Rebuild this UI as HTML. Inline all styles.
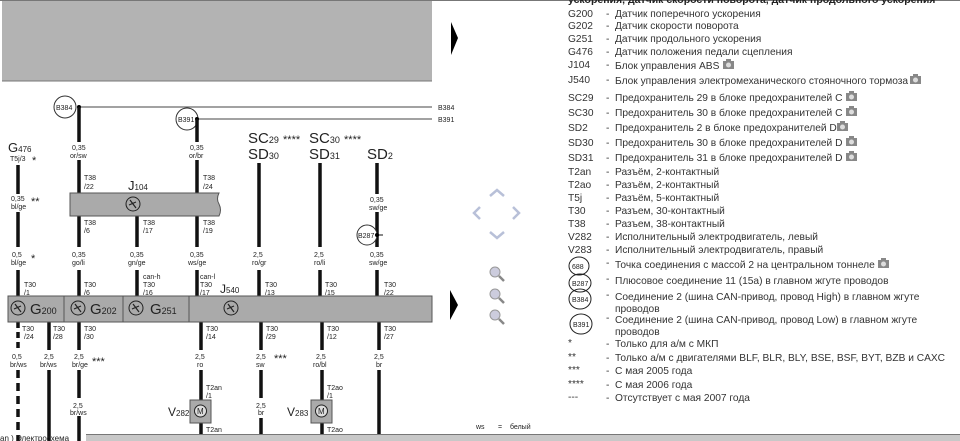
<!DOCTYPE html>
<html><head><meta charset="utf-8"><style>
html,body{margin:0;padding:0;background:#fff;width:960px;height:441px;overflow:hidden}
svg{display:block}
text{font-family:"Liberation Sans",sans-serif;fill:#222}
.s{font-size:7px}
.L{font-size:15px}
.g{font-size:10.2px;fill:#333}
</style></head><body>
<svg width="960" height="441" viewBox="0 0 960 441" xmlns="http://www.w3.org/2000/svg">
<defs>
<g id="sym"><circle r="7" fill="none" stroke="#222" stroke-width="1"/><path d="M-3,-4 L3,4 M-4,1 L3,-2" stroke="#222" stroke-width="1.2"/></g>
<g id="cam"><rect x="-5" y="-4" width="11" height="8" fill="#888"/><rect x="-2" y="-6" width="5" height="2" fill="#888"/><circle cx="0.5" cy="0" r="2.5" fill="#ddd"/></g>
</defs>
<line x1="0" y1="0.5" x2="960" y2="0.5" stroke="#777"/>
<rect x="2" y="1" width="430" height="80" fill="#b3b3b3"/>
<line x1="2" y1="81" x2="432" y2="81" stroke="#777"/>
<polygon points="451,22 458,38 451,55" fill="#000"/>
<polygon points="450,290 458,305 450,320" fill="#000"/>

<circle cx="65" cy="107" r="11" fill="#fff" stroke="#333"/><text x="56" y="110" class="s">B384</text>
<line x1="79" y1="107" x2="432" y2="107" stroke="#444"/><circle cx="79" cy="107" r="2" fill="#000"/>
<text x="438" y="110" class="s">B384</text>
<circle cx="187" cy="119" r="11" fill="#fff" stroke="#333"/><text x="178" y="122" class="s">B391</text>
<line x1="197" y1="119" x2="432" y2="119" stroke="#444"/><circle cx="197" cy="119" r="2" fill="#000"/>
<text x="438" y="122" class="s">B391</text>

<g stroke="#111" stroke-width="3.5">
<line x1="79" y1="107" x2="79" y2="142"/><line x1="79" y1="160" x2="79" y2="193"/>
<line x1="197" y1="119" x2="197" y2="142"/><line x1="197" y1="160" x2="197" y2="193"/>
<line x1="79" y1="216" x2="79" y2="247"/><line x1="79" y1="270" x2="79" y2="296"/>
<line x1="137" y1="216" x2="137" y2="247"/><line x1="137" y1="270" x2="137" y2="296"/>
<line x1="197" y1="216" x2="197" y2="247"/><line x1="197" y1="270" x2="197" y2="296"/>
<line x1="18" y1="165" x2="18" y2="194"/><line x1="18" y1="212" x2="18" y2="247"/><line x1="18" y1="270" x2="18" y2="296"/>
<line x1="259" y1="163" x2="259" y2="247"/><line x1="259" y1="270" x2="259" y2="296"/>
<line x1="320" y1="163" x2="320" y2="247"/><line x1="320" y1="270" x2="320" y2="296"/>
<line x1="377" y1="163" x2="377" y2="194"/><line x1="377" y1="212" x2="377" y2="247"/><line x1="377" y1="270" x2="377" y2="296"/>
<line x1="18" y1="322" x2="18" y2="350" stroke-dasharray="6,4"/><line x1="18" y1="370" x2="18" y2="441" stroke-dasharray="8,5"/>
<line x1="49" y1="322" x2="49" y2="350"/><line x1="49" y1="370" x2="49" y2="441"/>
<line x1="79" y1="322" x2="79" y2="350"/><line x1="79" y1="370" x2="79" y2="398"/><line x1="79" y1="416" x2="79" y2="441"/>
<line x1="201" y1="322" x2="201" y2="350"/><line x1="201" y1="370" x2="201" y2="400"/><line x1="201" y1="423" x2="201" y2="441"/>
<line x1="261" y1="322" x2="261" y2="350"/><line x1="261" y1="370" x2="261" y2="398"/><line x1="261" y1="418" x2="261" y2="441"/>
<line x1="322" y1="322" x2="322" y2="350"/><line x1="322" y1="370" x2="322" y2="400"/><line x1="322" y1="423" x2="322" y2="441"/>
<line x1="379" y1="322" x2="379" y2="350"/><line x1="379" y1="370" x2="379" y2="441"/>
</g>

<path d="M70,193 H219 Q216,199 219,204 Q222,210 219,216 H70 Z" fill="#aaa" stroke="#555"/>
<use href="#sym" x="133" y="204"/>
<text x="128" y="190" class="L" style="font-size:13px">J<tspan style="font-size:8px">104</tspan></text>

<rect x="8" y="296" width="424" height="26" fill="#aaa" stroke="#555"/>
<line x1="64" y1="296" x2="64" y2="322" stroke="#555"/><line x1="123" y1="296" x2="123" y2="322" stroke="#555"/><line x1="189" y1="296" x2="189" y2="322" stroke="#555"/>
<use href="#sym" x="18" y="308"/><text x="30" y="314" class="L">G<tspan style="font-size:9px">200</tspan></text>
<use href="#sym" x="78" y="308"/><text x="90" y="314" class="L">G<tspan style="font-size:9px">202</tspan></text>
<use href="#sym" x="136" y="308"/><text x="150" y="314" class="L">G<tspan style="font-size:9px">251</tspan></text>
<use href="#sym" x="231" y="308"/>

<text x="8" y="152" class="L" style="font-size:13px">G<tspan style="font-size:8px">476</tspan></text>
<text x="10" y="161" class="s">T5j/3</text><text x="32" y="164" style="font-size:11px">*</text>
<text x="11" y="201" class="s">0,35</text><text x="11" y="209" class="s">bl/ge</text><text x="31" y="205" style="font-size:11px">**</text>
<text x="12" y="257" class="s">0,5</text><text x="11" y="265" class="s">bl/ge</text><text x="31" y="262" style="font-size:11px">*</text>
<text x="72" y="150" class="s">0,35</text><text x="70" y="158" class="s">or/sw</text>
<text x="190" y="150" class="s">0,35</text><text x="189" y="158" class="s">or/br</text>
<text x="84" y="180" class="s">T38</text><text x="84" y="189" class="s">/22</text>
<text x="203" y="180" class="s">T38</text><text x="203" y="189" class="s">/24</text>
<text x="84" y="225" class="s">T38</text><text x="84" y="233" class="s">/6</text>
<text x="143" y="225" class="s">T38</text><text x="143" y="233" class="s">/17</text>
<text x="203" y="225" class="s">T38</text><text x="203" y="233" class="s">/19</text>
<text x="72" y="257" class="s">0,35</text><text x="72" y="265" class="s">go/li</text>
<text x="130" y="257" class="s">0,35</text><text x="128" y="265" class="s">gn/ge</text>
<text x="190" y="257" class="s">0,35</text><text x="188" y="265" class="s">ws/ge</text>
<text x="253" y="257" class="s">2,5</text><text x="252" y="265" class="s">ro/gr</text>
<text x="314" y="257" class="s">2,5</text><text x="314" y="265" class="s">ro/li</text>
<text x="370" y="202" class="s">0,35</text><text x="369" y="210" class="s">sw/ge</text>
<circle cx="367" cy="235" r="10" fill="#fff" stroke="#333"/><text x="358" y="238" class="s">B287</text>
<line x1="377" y1="235" x2="383" y2="235" stroke="#111"/><circle cx="377" cy="235" r="2" fill="#000"/>
<text x="370" y="257" class="s">0,35</text><text x="369" y="265" class="s">sw/ge</text>
<text x="248" y="143" class="L">SC<tspan style="font-size:9px">29</tspan> <tspan style="font-size:11px">****</tspan></text>
<text x="248" y="159" class="L">SD<tspan style="font-size:9px">30</tspan></text>
<text x="309" y="143" class="L">SC<tspan style="font-size:9px">30</tspan> <tspan style="font-size:11px">****</tspan></text>
<text x="309" y="159" class="L">SD<tspan style="font-size:9px">31</tspan></text>
<text x="367" y="159" class="L">SD<tspan style="font-size:9px">2</tspan></text>

<text x="24" y="287" class="s">T30</text><text x="24" y="295" class="s">/1</text>
<text x="84" y="287" class="s">T30</text><text x="84" y="295" class="s">/6</text>
<text x="143" y="279" class="s">can-h</text><text x="143" y="287" class="s">T30</text><text x="143" y="295" class="s">/16</text>
<text x="200" y="279" class="s">can-l</text><text x="200" y="287" class="s">T30</text><text x="200" y="295" class="s">/17</text>
<text x="220" y="293" style="font-size:12px">J<tspan style="font-size:8px">540</tspan></text>
<text x="265" y="287" class="s">T30</text><text x="265" y="295" class="s">/13</text>
<text x="325" y="287" class="s">T30</text><text x="325" y="295" class="s">/15</text>
<text x="384" y="287" class="s">T30</text><text x="384" y="295" class="s">/22</text>

<text x="22" y="331" class="s">T30</text><text x="24" y="339" class="s">/24</text>
<text x="53" y="331" class="s">T30</text><text x="53" y="339" class="s">/28</text>
<text x="84" y="331" class="s">T30</text><text x="84" y="339" class="s">/30</text>
<text x="206" y="331" class="s">T30</text><text x="206" y="339" class="s">/14</text>
<text x="266" y="331" class="s">T30</text><text x="266" y="339" class="s">/29</text>
<text x="327" y="331" class="s">T30</text><text x="327" y="339" class="s">/12</text>
<text x="384" y="331" class="s">T30</text><text x="384" y="339" class="s">/27</text>
<text x="12" y="359" class="s">0,5</text><text x="10" y="367" class="s">br/ws</text>
<text x="44" y="359" class="s">2,5</text><text x="40" y="367" class="s">br/ws</text>
<text x="74" y="359" class="s">2,5</text><text x="72" y="367" class="s">br/ge</text><text x="92" y="365" style="font-size:11px">***</text>
<text x="195" y="359" class="s">2,5</text><text x="197" y="367" class="s">ro</text>
<text x="256" y="359" class="s">2,5</text><text x="256" y="367" class="s">sw</text><text x="274" y="362" style="font-size:11px">***</text>
<text x="316" y="359" class="s">2,5</text><text x="313" y="367" class="s">ro/bl</text>
<text x="374" y="359" class="s">2,5</text><text x="376" y="367" class="s">br</text>
<text x="73" y="408" class="s">2,5</text><text x="70" y="415" class="s">br/ws</text>
<text x="256" y="408" class="s">2,5</text><text x="258" y="415" class="s">br</text>
<text x="206" y="390" class="s">T2an</text><text x="206" y="398" class="s">/1</text>
<text x="327" y="390" class="s">T2ao</text><text x="327" y="398" class="s">/1</text>
<text x="206" y="432" class="s">T2an</text><text x="327" y="432" class="s">T2ao</text>
<rect x="190" y="400" width="21" height="23" fill="#aaa" stroke="#555"/><circle cx="200.5" cy="411" r="6" fill="#ddd" stroke="#222"/><text x="197" y="414" style="font-size:8px">M</text>
<text x="168" y="416" style="font-size:12px">V<tspan style="font-size:8px">282</tspan></text>
<rect x="311" y="400" width="21" height="23" fill="#aaa" stroke="#555"/><circle cx="321.5" cy="411" r="6" fill="#ddd" stroke="#222"/><text x="318" y="414" style="font-size:8px">M</text>
<text x="287" y="416" style="font-size:12px">V<tspan style="font-size:8px">283</tspan></text>
<text x="476" y="429" class="s">ws</text><text x="498" y="429" class="s">=</text><text x="510" y="429" class="s">белый</text>

<g stroke="#b8c0d8" stroke-width="2.5" fill="none">
<path d="M490,196 L497,190 L504,196"/><path d="M490,232 L497,238 L504,232"/>
<path d="M480,207 L474,213 L480,219"/><path d="M513,207 L519,213 L513,219"/>
</g>
<g fill="#ccd" stroke="#999">
<circle cx="495" cy="272" r="5"/><circle cx="495" cy="294" r="5"/><circle cx="495" cy="315" r="5"/>
</g>
<g stroke="#888" stroke-width="2.5"><line x1="499" y1="276" x2="504" y2="281"/><line x1="499" y1="298" x2="504" y2="303"/><line x1="499" y1="319" x2="504" y2="324"/></g>

<rect x="86" y="434" width="874" height="7" fill="#c8c8c8"/><line x1="86" y1="434.5" x2="960" y2="434.5" stroke="#777"/>
<text x="0" y="441" style="font-size:8px">an ) Электросхема</text>

<text x="568" y="3" style="font-size:10.5px;font-weight:bold">ускорения, датчик скорости поворота, датчик продольного ускорения</text>
<g class="g">
<text x="568" y="17" class="g">G200</text><text x="606" y="17" class="g">-</text><text x="615" y="17" class="g">Датчик поперечного ускорения</text>
<text x="568" y="29" class="g">G202</text><text x="606" y="29" class="g">-</text><text x="615" y="29" class="g">Датчик скорости поворота</text>
<text x="568" y="42" class="g">G251</text><text x="606" y="42" class="g">-</text><text x="615" y="42" class="g">Датчик продольного ускорения</text>
<text x="568" y="55" class="g">G476</text><text x="606" y="55" class="g">-</text><text x="615" y="55" class="g">Датчик положения педали сцепления</text>
<text x="568" y="68" class="g">J104</text><text x="606" y="68" class="g">-</text><text x="615" y="69" class="g">Блок управления ABS</text>
<text x="568" y="83" class="g">J540</text><text x="606" y="83" class="g">-</text><text x="615" y="84" class="g">Блок управления электромеханического стояночного тормоза</text>
<text x="568" y="101" class="g">SC29</text><text x="606" y="101" class="g">-</text><text x="615" y="101" class="g">Предохранитель 29 в блоке предохранителей C</text>
<text x="568" y="116" class="g">SC30</text><text x="606" y="116" class="g">-</text><text x="615" y="116" class="g">Предохранитель 30 в блоке предохранителей C</text>
<text x="568" y="131" class="g">SD2</text><text x="606" y="131" class="g">-</text><text x="615" y="131" class="g">Предохранитель 2 в блоке предохранителей D</text>
<text x="568" y="146" class="g">SD30</text><text x="606" y="146" class="g">-</text><text x="615" y="146" class="g">Предохранитель 30 в блоке предохранителей D</text>
<text x="568" y="161" class="g">SD31</text><text x="606" y="161" class="g">-</text><text x="615" y="161" class="g">Предохранитель 31 в блоке предохранителей D</text>
<text x="568" y="175" class="g">T2an</text><text x="606" y="175" class="g">-</text><text x="615" y="175" class="g">Разъём, 2-контактный</text>
<text x="568" y="188" class="g">T2ao</text><text x="606" y="188" class="g">-</text><text x="615" y="188" class="g">Разъём, 2-контактный</text>
<text x="568" y="201" class="g">T5j</text><text x="606" y="201" class="g">-</text><text x="615" y="201" class="g">Разъём, 5-контактный</text>
<text x="568" y="214" class="g">T30</text><text x="606" y="214" class="g">-</text><text x="615" y="214" class="g">Разъем, 30-контактный</text>
<text x="568" y="227" class="g">T38</text><text x="606" y="227" class="g">-</text><text x="615" y="227" class="g">Разъем, 38-контактный</text>
<text x="568" y="240" class="g">V282</text><text x="606" y="240" class="g">-</text><text x="615" y="240" class="g">Исполнительный электродвигатель, левый</text>
<text x="568" y="253" class="g">V283</text><text x="606" y="253" class="g">-</text><text x="615" y="253" class="g">Исполнительный электродвигатель, правый</text>
<text x="606" y="266" class="g">-</text><text x="615" y="268" class="g">Точка соединения с массой 2 на центральном тоннеле</text>
<text x="606" y="282" class="g">-</text><text x="615" y="284" class="g">Плюсовое соединение 11 (15a) в главном жгуте проводов</text>
<text x="606" y="298" class="g">-</text><text x="615" y="300" class="g">Соединение 2 (шина CAN-привод, провод High) в главном жгуте</text>
<text x="615" y="312" class="g">проводов</text>
<text x="606" y="321" class="g">-</text><text x="615" y="323" class="g">Соединение 2 (шина CAN-привод, провод Low) в главном жгуте</text>
<text x="615" y="335" class="g">проводов</text>
<text x="568" y="346" class="g">*</text><text x="606" y="347" class="g">-</text><text x="615" y="347" class="g">Только для а/м с МКП</text>
<text x="568" y="360" class="g">**</text><text x="606" y="361" class="g">-</text><text x="615" y="361" class="g">Только а/м с двигателями BLF, BLR, BLY, BSE, BSF, BYT, BZB и CAXC</text>
<text x="568" y="373" class="g">***</text><text x="606" y="374" class="g">-</text><text x="615" y="374" class="g">С мая 2005 года</text>
<text x="568" y="387" class="g">****</text><text x="606" y="388" class="g">-</text><text x="615" y="388" class="g">С мая 2006 года</text>
<text x="568" y="400" class="g">---</text><text x="606" y="401" class="g">-</text><text x="615" y="401" class="g">Отсутствует с мая 2007 года</text>
</g>
<g fill="none" stroke="#222">
<ellipse cx="579" cy="266" rx="10" ry="9"/><ellipse cx="580" cy="283" rx="11" ry="9"/><ellipse cx="580" cy="299" rx="11" ry="10"/><ellipse cx="581" cy="324" rx="11" ry="10"/>
</g>
<text x="572" y="269" class="s">688</text><text x="572" y="286" class="s">B287</text><text x="572" y="302" class="s">B384</text><text x="573" y="327" class="s">B391</text>
<use href="#cam" x="728" y="65"/><use href="#cam" x="915" y="80"/>
<use href="#cam" x="851" y="97"/><use href="#cam" x="851" y="112"/><use href="#cam" x="842" y="127"/>
<use href="#cam" x="851" y="142"/><use href="#cam" x="851" y="157"/><use href="#cam" x="883" y="264"/>
</svg>
</body></html>
